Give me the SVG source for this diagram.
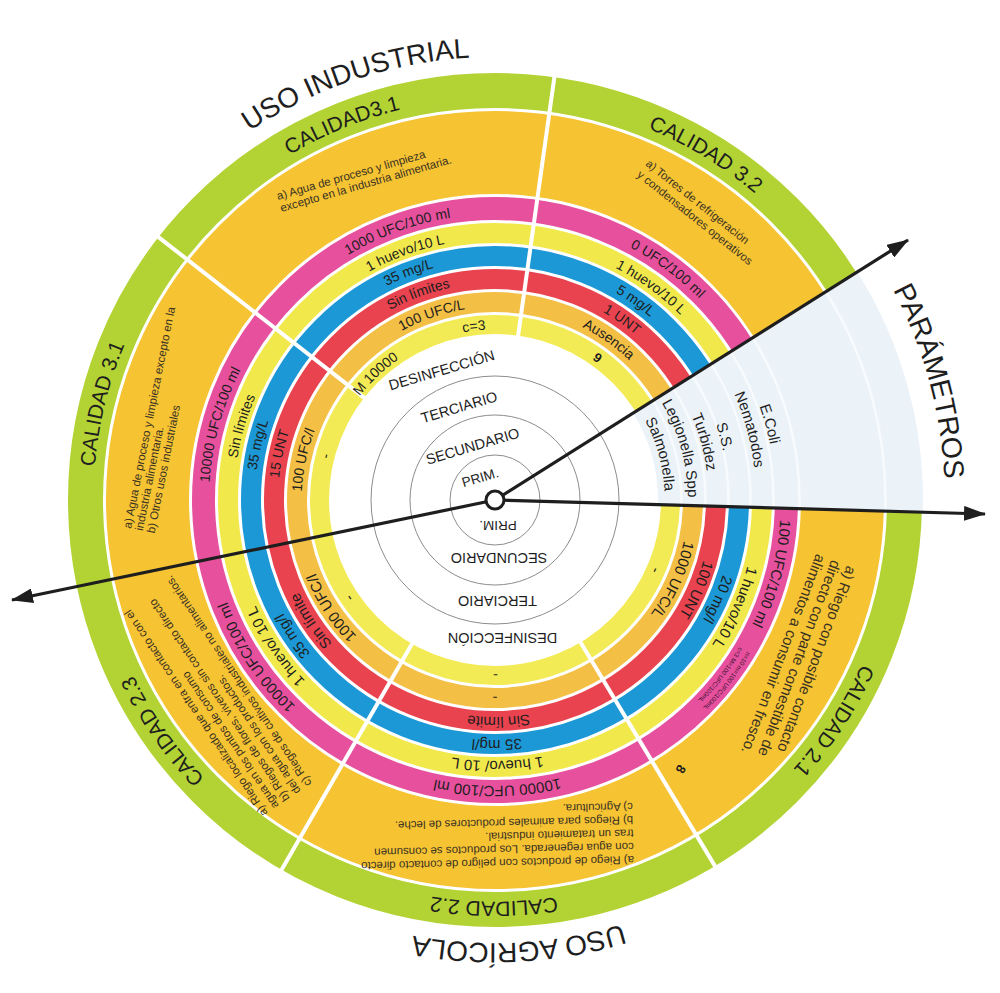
<svg xmlns="http://www.w3.org/2000/svg" width="1000" height="993" viewBox="0 0 1000 993">
<style>
.t{font-family:'Liberation Sans',Arial,sans-serif;fill:#1e1e1e}
.lab{font-size:14px}
.labL{font-size:15px}
.cal{font-size:21px}
.uso{font-size:28px}
.desc{font-size:11.5px;fill:#3a3222}
.descL{font-size:15px;fill:#3a3222}
.par{font-size:15px}
.inner{font-size:14.5px}
.tiny{font-size:6.3px;fill:#3a1030}
.ring{fill:none}
.sep{stroke:#ffffff;stroke-width:4}
.grey{fill:none;stroke:#8c8c8c;stroke-width:1}
.arrow{stroke:#1e1e1e;stroke-width:3.2;fill:none}
.faint{fill:none;stroke:#f8fbfd;stroke-width:2.5}
</style>
<defs>
<marker id="ah" viewBox="0 0 22 15" refX="21" refY="7.5" markerWidth="22" markerHeight="15" markerUnits="userSpaceOnUse" orient="auto"><path d="M0,0 L22,7.5 L0,15 Z" fill="#1e1e1e"/></marker>
<path id="p287" d="M714.85,315.52 A287,287 0 0 1 275.15,684.48 A287,287 0 0 1 714.85,315.52"/>
<path id="p262" d="M695.70,331.59 A262,262 0 0 1 294.30,668.41 A262,262 0 0 1 695.70,331.59"/>
<path id="p240" d="M678.85,345.73 A240,240 0 0 1 311.15,654.27 A240,240 0 0 1 678.85,345.73"/>
<path id="p217" d="M661.23,360.51 A217,217 0 0 1 328.77,639.49 A217,217 0 0 1 661.23,360.51"/>
<path id="p194" d="M643.61,375.30 A194,194 0 0 1 346.39,624.70 A194,194 0 0 1 643.61,375.30"/>
<path id="p171" d="M625.99,390.08 A171,171 0 0 1 364.01,609.92 A171,171 0 0 1 625.99,390.08"/>
<path id="p402" d="M802.95,241.60 A402,402 0 0 1 187.05,758.40 A402,402 0 0 1 802.95,241.60"/>
<path id="p444" d="M835.12,214.60 A444,444 0 0 1 154.88,785.40 A444,444 0 0 1 835.12,214.60"/>
<path id="p294" d="M720.22,311.02 A294,294 0 0 1 269.78,688.98 A294,294 0 0 1 720.22,311.02"/>
<path id="p285" d="M713.32,316.80 A285,285 0 0 1 276.68,683.20 A285,285 0 0 1 713.32,316.80"/>
<path id="p281" d="M710.26,319.38 A281,281 0 0 1 279.74,680.62 A281,281 0 0 1 710.26,319.38"/>
<path id="p234" d="M674.25,349.59 A234,234 0 0 1 315.75,650.41 A234,234 0 0 1 674.25,349.59"/>
<path id="p214" d="M658.93,362.44 A214,214 0 0 1 331.07,637.56 A214,214 0 0 1 658.93,362.44"/>
<path id="p193" d="M642.85,375.94 A193,193 0 0 1 347.15,624.06 A193,193 0 0 1 642.85,375.94"/>
<path id="p170" d="M625.23,390.73 A170,170 0 0 1 364.77,609.27 A170,170 0 0 1 625.23,390.73"/>
<path id="p450" d="M839.72,210.74 A450,450 0 0 1 150.28,789.26 A450,450 0 0 1 839.72,210.74"/>
</defs>
<rect width="1000" height="993" fill="#ffffff"/>

<g id="rings">
<circle class="ring" cx="495" cy="500" r="409.5" stroke="#b3d334" stroke-width="35"/>
<circle class="ring" cx="495" cy="500" r="347.5" stroke="#f6c333" stroke-width="83"/>
<circle class="ring" cx="495" cy="500" r="291.5" stroke="#e6509d" stroke-width="23"/>
<circle class="ring" cx="495" cy="500" r="267" stroke="#f1e94c" stroke-width="20"/>
<circle class="ring" cx="495" cy="500" r="244" stroke="#1b98d5" stroke-width="20"/>
<circle class="ring" cx="495" cy="500" r="221" stroke="#e8434f" stroke-width="20"/>
<circle class="ring" cx="495" cy="500" r="198" stroke="#f3bf45" stroke-width="20"/>
<circle class="ring" cx="495" cy="500" r="175.5" stroke="#f2eb55" stroke-width="19"/>
<circle class="grey" cx="495" cy="500" r="45"/>
<circle class="grey" cx="495" cy="500" r="85"/>
<circle class="grey" cx="495" cy="500" r="124"/>
</g>

<g id="parametros">
<path d="M857.2,271.9 A428,428 0 0 1 922.8,511.95 L657.9,504.55 A163,163 0 0 0 632.9,413.1 Z" fill="#ebf2f8"/>
<path class="faint" d="M825.9,292.0 A390.5,390.5 0 0 1 885.3,510.9"/>
<path class="faint" d="M752.7,337.8 A304.5,304.5 0 0 1 799.4,508.5"/>
<path class="faint" d="M730.7,351.6 A278.5,278.5 0 0 1 773.4,507.8"/>
<path class="faint" d="M711.3,363.8 A255.5,255.5 0 0 1 750.4,507.1"/>
<path class="faint" d="M692.6,375.6 A233.5,233.5 0 0 1 728.4,506.5"/>
<path class="faint" d="M673.1,387.8 A210.5,210.5 0 0 1 705.4,505.9"/>
<path class="faint" d="M652.8,400.6 A186.5,186.5 0 0 1 681.4,505.2"/>
<text class="t par" text-anchor="middle"><textPath href="#p281" startOffset="120.2">E.Coli</textPath></text>
<text class="t par" text-anchor="middle"><textPath href="#p262" startOffset="112.0">Nematodos</textPath></text>
<text class="t par" text-anchor="middle"><textPath href="#p234" startOffset="100.1">S.S.</textPath></text>
<text class="t par" text-anchor="middle"><textPath href="#p214" startOffset="91.5">Turbidez</textPath></text>
<text class="t par" text-anchor="middle"><textPath href="#p193" startOffset="82.5">Legionella Spp</textPath></text>
<text class="t par" text-anchor="middle"><textPath href="#p170" startOffset="72.7">Salmonella</textPath></text>
<text class="t" style="font-size:28.5px" text-anchor="middle"><textPath href="#p450" startOffset="194.4">PARÁMETROS</textPath></text>
</g>

<g id="separators">
<line class="sep" x1="517.7" y1="338.6" x2="554.8" y2="74.2"/>
<line class="sep" x1="366.6" y1="399.6" x2="156.2" y2="235.3"/>
<line class="sep" x1="579.0" y1="639.7" x2="716.5" y2="868.6"/>
<line class="sep" x1="413.5" y1="641.2" x2="280.0" y2="872.4"/>
</g>

<g id="uso-industrial">
<text class="t uso" text-anchor="middle"><textPath href="#p444" startOffset="2255.0">USO INDUSTRIAL</textPath></text>
</g>
<g id="uso-agricola">
<text class="t uso" text-anchor="middle"><textPath href="#p444" startOffset="981.8">USO AGRÍCOLA</textPath></text>
</g>

<g id="calidad-3-1-superior">
<text class="t cal" text-anchor="middle"><textPath href="#p402" startOffset="2017.2">CALIDAD3.1</textPath></text>
<text class="desc t" transform="translate(278,200) rotate(-16)"><tspan x="0" y="0">a) Agua de proceso y limpieza</tspan><tspan x="0" y="12.5">excepto en la industria alimentaria.</tspan></text>
<text class="t lab" text-anchor="middle"><textPath href="#p287" startOffset="1447.6">1000 UFC/100 ml</textPath></text>
<text class="t lab" text-anchor="middle"><textPath href="#p262" startOffset="1321.5">1 huevo/10 L</textPath></text>
<text class="t lab" text-anchor="middle"><textPath href="#p240" startOffset="1210.6">35 mg/L</textPath></text>
<text class="t lab" text-anchor="middle"><textPath href="#p217" startOffset="1096.4">Sin límites</textPath></text>
<text class="t lab" text-anchor="middle"><textPath href="#p194" startOffset="981.9">100 UFC/L</textPath></text>
<text class="t lab" text-anchor="middle"><textPath href="#p171" startOffset="793.9">M 10000</textPath></text>
<text class="t lab" text-anchor="middle"><textPath href="#p171" startOffset="902.5">c=3</textPath></text>
</g>

<g id="calidad-3-2">
<text class="t cal" text-anchor="middle"><textPath href="#p402" startOffset="2392.5">CALIDAD 3.2</textPath></text>
<text class="desc t" transform="translate(645,165) rotate(38.5)"><tspan x="0" y="0">a) Torres de refrigeración</tspan><tspan x="0" y="14">y condensadores operativos</tspan></text>
<text class="t lab" text-anchor="middle"><textPath href="#p287" startOffset="1730.6">0 UFC/100 ml</textPath></text>
<text class="t lab" text-anchor="middle"><textPath href="#p262" startOffset="1577.6">1 huevo/10 L</textPath></text>
<text class="t lab" text-anchor="middle"><textPath href="#p240" startOffset="1445.1">5 mg/L</textPath></text>
<text class="t lab" text-anchor="middle"><textPath href="#p217" startOffset="1306.6">1 UNT</textPath></text>
<text class="t lab" text-anchor="middle"><textPath href="#p194" startOffset="1164.8">Ausencia</textPath></text>
<text class="t" style="font-size:13px;font-weight:bold" text-anchor="middle"><textPath href="#p171" startOffset="1029.7">9</textPath></text>
</g>

<g id="calidad-3-1-lateral">
<text class="t cal" text-anchor="middle"><textPath href="#p402" startOffset="1638.3">CALIDAD 3.1</textPath></text>
<text class="desc t" transform="translate(131,529) rotate(-78.7)"><tspan x="0" y="0">a) Agua de proceso y limpieza excepto en la</tspan><tspan x="0" y="12">industria alimentaria.</tspan><tspan x="0" y="24">b) Otros usos industriales</tspan></text>
<text class="t lab" text-anchor="middle"><textPath href="#p287" startOffset="1174.6">10000 UFC/100 ml</textPath></text>
<text class="t lab" text-anchor="middle"><textPath href="#p262" startOffset="1076.9">Sin límites</textPath></text>
<text class="t lab" text-anchor="middle"><textPath href="#p240" startOffset="976.0">35 mg/L</textPath></text>
<text class="t lab" text-anchor="middle"><textPath href="#p217" startOffset="878.7">15 UNT</textPath></text>
<text class="t lab" text-anchor="middle"><textPath href="#p194" startOffset="782.1">100 UFC/l</textPath></text>
<text class="t lab" text-anchor="middle"><textPath href="#p171" startOffset="698.4">-</textPath></text>
</g>

<g id="calidad-2-1">
<text class="t cal" text-anchor="middle"><textPath href="#p402" startOffset="512.2">CALIDAD 2.1</textPath></text>
<text class="descL t" transform="translate(847,565) rotate(110.75)"><tspan x="0" y="0">a) Riego con posible contacto</tspan><tspan x="0" y="16.5">directo con parte comestible de</tspan><tspan x="0" y="33">alimentos a consumir en fresco.</tspan></text>
<text class="t labL" text-anchor="middle"><textPath href="#p287" startOffset="274.2">100 UFC/100 ml</textPath></text>
<text class="t tiny"><textPath href="#p294" startOffset="364.3">n=10 m=100 UFC/100mL</textPath></text>
<text class="t tiny"><textPath href="#p285" startOffset="353.2">c=3 M=100 UFC/100mL</textPath></text>
<text class="t labL" text-anchor="middle"><textPath href="#p262" startOffset="292.7">1 huevo/10 L</textPath></text>
<text class="t labL" text-anchor="middle"><textPath href="#p240" startOffset="268.1">20 mg/l</textPath></text>
<text class="t labL" text-anchor="middle"><textPath href="#p217" startOffset="242.4">100 UNT</textPath></text>
<text class="t labL" text-anchor="middle"><textPath href="#p194" startOffset="216.7">1000 UFC/L</textPath></text>
<text class="t labL" text-anchor="middle"><textPath href="#p171" startOffset="189.8">-</textPath></text>
<text class="t" style="font-size:13px;font-weight:bold" text-anchor="middle" transform="translate(677,767) rotate(120)">8</text>
</g>

<g id="calidad-2-2">
<text class="t cal" text-anchor="middle"><textPath href="#p402" startOffset="912.1">CALIDAD 2.2</textPath></text>
<text class="desc t" transform="translate(634,856) rotate(178.7)"><tspan x="0" y="0">a) Riego de productos con peligro de contacto directo</tspan><tspan x="0" y="13.3">con agua regenerada. Los productos se consumen</tspan><tspan x="0" y="26.6">tras un tratamiento industrial.</tspan><tspan x="0" y="39.9">b) Riegos para animales productores de leche.</tspan><tspan x="0" y="53.2">c) Agricultura.</tspan></text>
<text class="t labL" text-anchor="middle"><textPath href="#p287" startOffset="646.2">10000 UFC/100 ml</textPath></text>
<text class="t labL" text-anchor="middle"><textPath href="#p262" startOffset="589.9">1 huevo/ 10 L</textPath></text>
<text class="t labL" text-anchor="middle"><textPath href="#p240" startOffset="542.4">35 mg/l</textPath></text>
<text class="t labL" text-anchor="middle"><textPath href="#p217" startOffset="488.6">Sin límite</textPath></text>
<text class="t labL" text-anchor="middle"><textPath href="#p194" startOffset="438.5">-</textPath></text>
<text class="t labL" text-anchor="middle"><textPath href="#p171" startOffset="386.5">-</textPath></text>
</g>

<g id="calidad-2-3">
<text class="t cal" text-anchor="middle"><textPath href="#p402" startOffset="1298.0">CALIDAD 2.3</textPath></text>
<text class="desc t" transform="translate(268,813) rotate(236)"><tspan x="0" y="0">a) Riego localizado que entra en contacto con el</tspan><tspan x="0" y="13.25">agua en los puntos de consumo</tspan><tspan x="0" y="26.5">b) Riegos de flores, viveros sin contacto directo</tspan><tspan x="0" y="39.75">del agua con los productos.</tspan><tspan x="0" y="53">c) Riegos de cultivos industriales no alimentarios.</tspan></text>
<text class="t labL" text-anchor="middle"><textPath href="#p287" startOffset="931.7">10000 UFC/100 ml</textPath></text>
<text class="t labL" text-anchor="middle"><textPath href="#p262" startOffset="849.1">1 huevo/ 10 L</textPath></text>
<text class="t labL" text-anchor="middle"><textPath href="#p240" startOffset="779.1">35 mg/l</textPath></text>
<text class="t labL" text-anchor="middle"><textPath href="#p217" startOffset="707.1">Sin límite</textPath></text>
<text class="t labL" text-anchor="middle"><textPath href="#p194" startOffset="629.8">1000 UFC/l</textPath></text>
<text class="t labL" text-anchor="middle"><textPath href="#p171" startOffset="554.2">-</textPath></text>
</g>

<g id="tratamientos">
<text class="t inner" text-anchor="middle" transform="translate(443,375) rotate(-16.5)">DESINFECCIÓN</text>
<text class="t inner" text-anchor="middle" transform="translate(460.5,412) rotate(-16.5)">TERCIARIO</text>
<text class="t inner" text-anchor="middle" transform="translate(474,451) rotate(-16.5)">SECUNDARIO</text>
<text class="t inner" style="font-size:13.5px" text-anchor="middle" transform="translate(481.5,482) rotate(-16.5)">PRIM.</text>
<text class="t inner" style="font-size:13.5px" text-anchor="middle" transform="translate(498,520.5) rotate(180)">PRIM.</text>
<text class="t inner" text-anchor="middle" transform="translate(499,552.5) rotate(180)">SECUNDARIO</text>
<text class="t inner" text-anchor="middle" transform="translate(497.5,595.5) rotate(180)">TERCIARIO</text>
<text class="t inner" text-anchor="middle" transform="translate(502.5,633) rotate(180)">DESINFECCIÓN</text>
</g>

<g id="connectors">
<line class="arrow" x1="495" y1="500" x2="908" y2="240" marker-end="url(#ah)"/>
<line class="arrow" x1="495" y1="500" x2="985" y2="514" marker-end="url(#ah)"/>
<line class="arrow" x1="495" y1="500" x2="12" y2="600" marker-end="url(#ah)"/>
</g>
<g id="centro">
<circle cx="495" cy="500" r="9" fill="#ffffff" stroke="#1e1e1e" stroke-width="3"/>
</g>
</svg>
